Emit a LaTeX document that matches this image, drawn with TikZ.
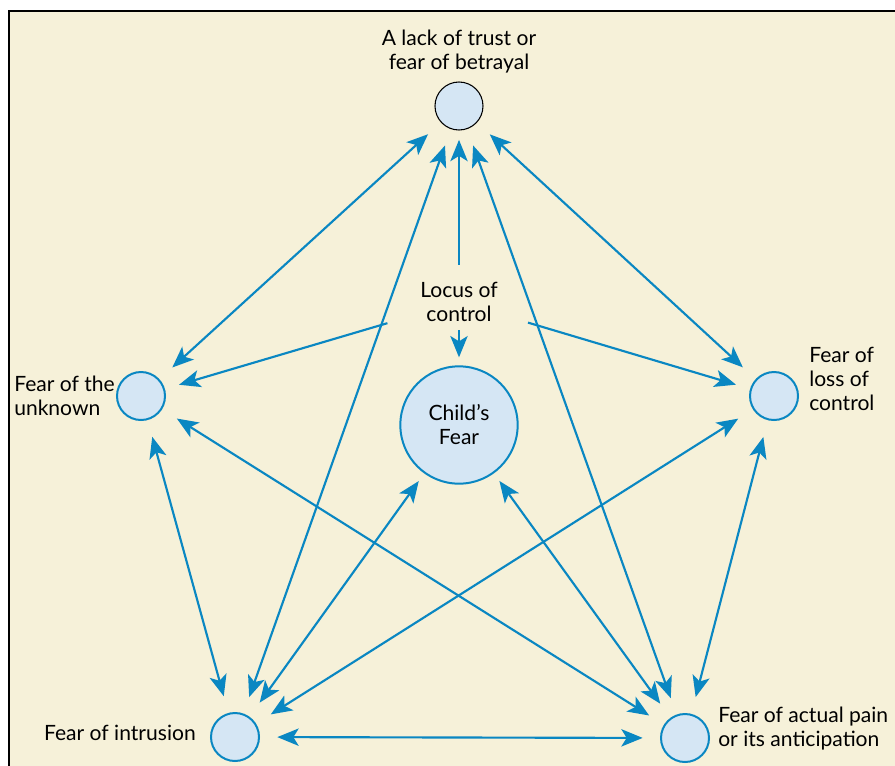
\documentclass[tikz,border=0pt]{standalone}
\usepackage{fontspec}
\setmainfont{Lato}
\usetikzlibrary{arrows.meta}
\definecolor{bgcream}{HTML}{F6F1D9}
\definecolor{lineblue}{HTML}{0A87C2}
\definecolor{fillblue}{HTML}{D5E6F4}
\tikzset{
  smallcirc/.style={circle, draw=lineblue, line width=1.5pt, fill=fillblue, minimum size=36pt, inner sep=0pt},
  bigcirc/.style={circle, draw=lineblue, line width=1.5pt, fill=fillblue, minimum size=88pt, inner sep=0pt, align=center, font=\fontsize{15.8}{18}\selectfont},
  lbl/.style={font=\fontsize{15.8}{18}\selectfont, inner sep=0pt},
  conn/.style={draw=lineblue, line width=1.6pt, {Stealth[length=16pt,width=13pt,inset=4pt]}-{Stealth[length=16pt,width=13pt,inset=4pt]}, shorten <=13pt, shorten >=13pt},
  oneway/.style={draw=lineblue, line width=1.6pt, -{Stealth[length=16pt,width=13pt,inset=4pt]}}
}
\begin{document}
\begin{tikzpicture}[x=0.75pt,y=-0.75pt]
\useasboundingbox (0,0) rectangle (895,765);
\fill[white] (0,0) rectangle (895,765);
\draw[fill=bgcream, line width=1.2pt] (9,11) rectangle (905,780);

% circles
\node[smallcirc, draw=black, line width=0.8pt] (top) at (459,106) {};
\node[smallcirc] (left) at (141,396) {};
\node[smallcirc] (right) at (774,396) {};
\node[smallcirc] (bl) at (235,737) {};
\node[smallcirc] (br) at (685,738) {};
\node[bigcirc] (child) at (459,425) {Child’s\\Fear};

% labels
\node[lbl, align=center] (toplbl) at (459,52) {A lack of trust or\\fear of betrayal};
\node[lbl, align=left, anchor=west] (leftlbl) at (14,396) {Fear of the\\unknown};
\node[lbl, align=left, anchor=west] (rightlbl) at (809,379) {Fear of\\loss of\\control};
\node[lbl, anchor=east] (bllbl) at (196,733) {Fear of intrusion};
\node[lbl, align=left, anchor=west] (brlbl) at (718,729) {Fear of actual pain\\or its anticipation};
\node[lbl, align=center] (locus) at (459,302) {Locus of\\control};

% connectors among outer circles
\draw[conn] (top) -- (left);
\draw[conn] (top) -- (bl);
\draw[conn] (top) -- (br);
\draw[conn] (top) -- (right);
\draw[conn] (left) -- (bl);
\draw[conn] (left) -- (br);
\draw[conn] (right) -- (bl);
\draw[conn] (right) -- (br);
\draw[conn] (bl) -- (br);
\draw[conn, shorten <=7pt] (child) -- (bl);
\draw[conn, shorten <=7pt] (child) -- (br);

% locus of control arrows
\draw[oneway, shorten <=28pt, shorten >=7pt] (locus.center) -- (top);
\draw[oneway, shorten <=21pt, shorten >=6pt] (locus.center) -- (child);
\draw[oneway, shorten <=56pt, shorten >=11pt] (locus.center) -- (left);
\draw[oneway, shorten <=54pt, shorten >=11pt] (locus.center) -- (right);
\end{tikzpicture}
\end{document}
